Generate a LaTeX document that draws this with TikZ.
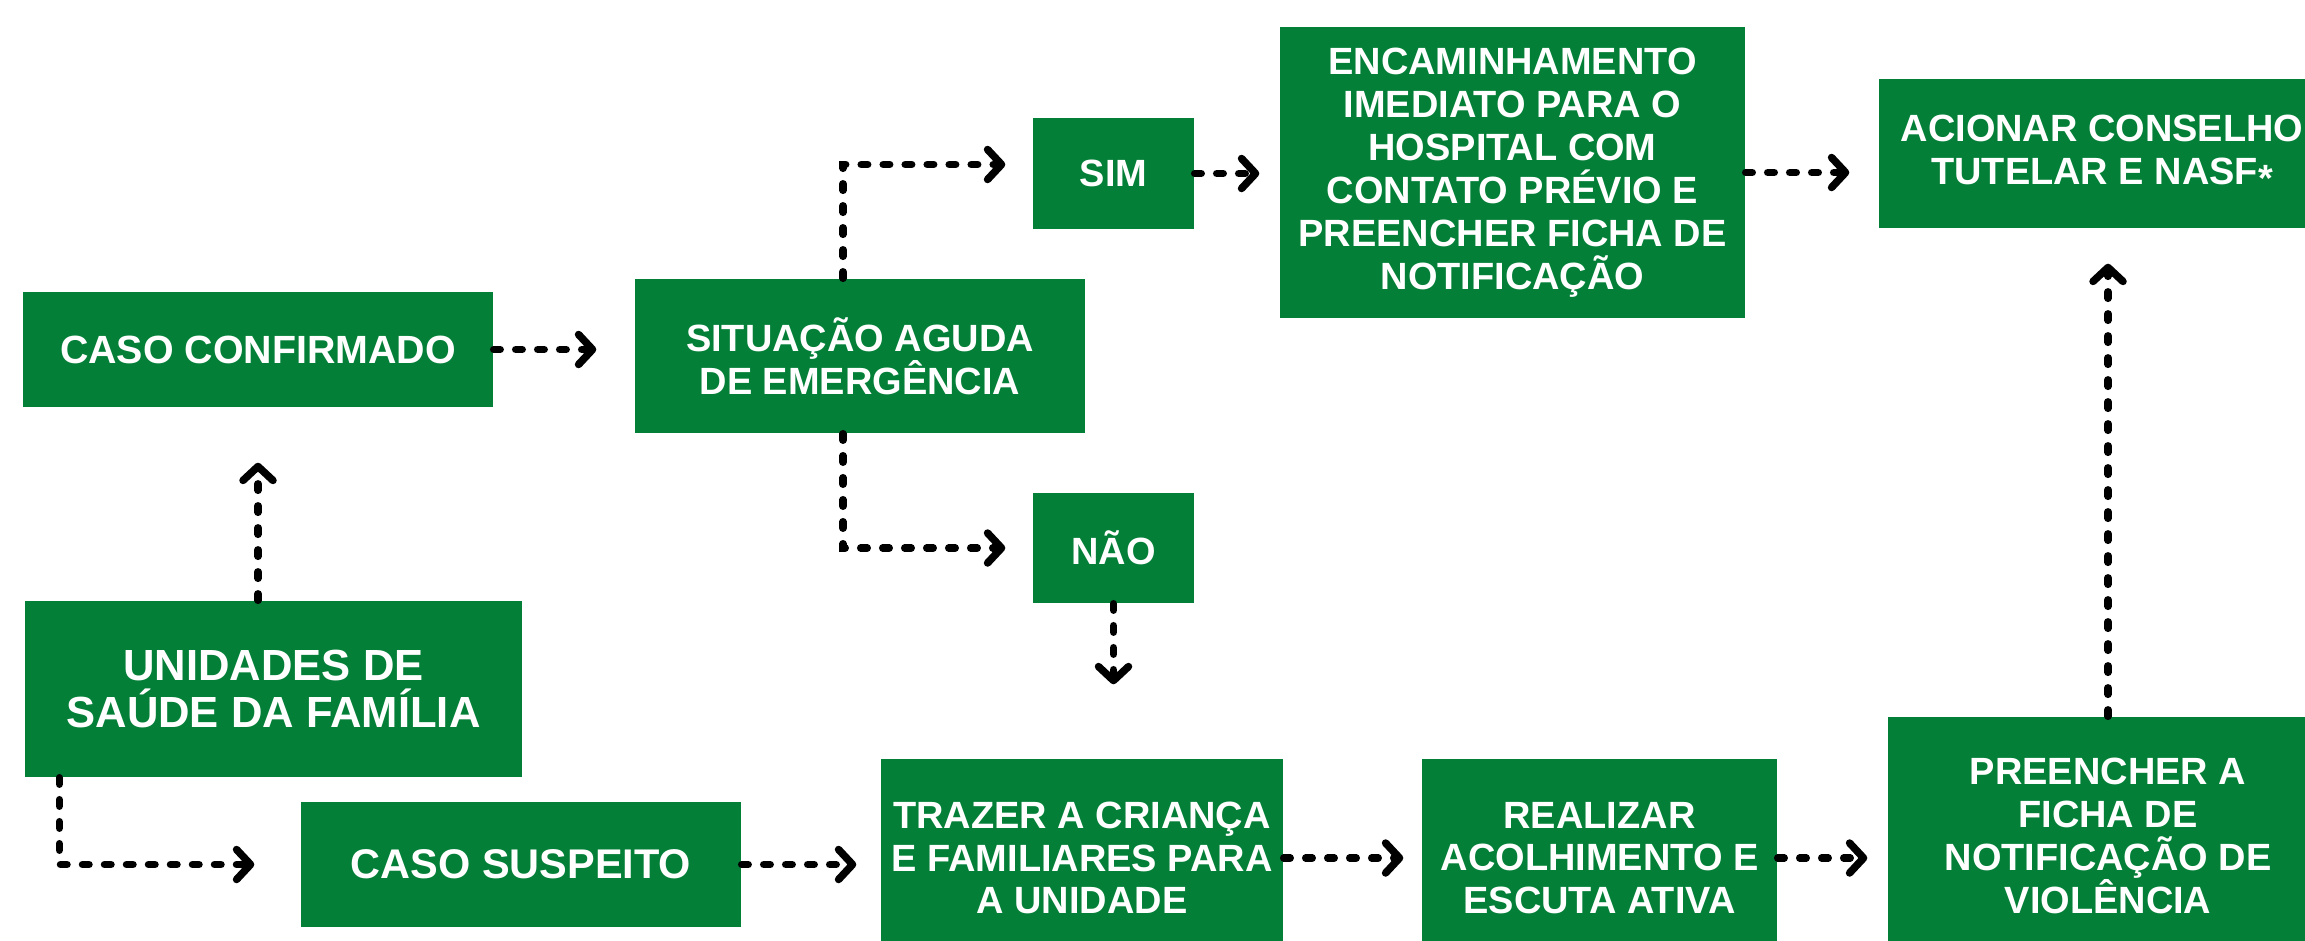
\documentclass[tikz,border=0pt]{standalone}
\usepackage{fontspec}
\setmainfont{Liberation Sans}
\usetikzlibrary{arrows.meta}
\definecolor{verde}{RGB}{4,127,56}

\begin{document}
\begin{tikzpicture}[x=0.1mm, y=-0.1mm,
  caixa/.style={fill=verde, text=white, align=center, inner sep=0pt,
    font=\bfseries\fontsize{10.8pt}{12.2pt}\selectfont},
  seta/.style={line width=0.75mm, line cap=round, dash pattern=on 0.65mm off 1.55mm,
    -{Straight Barb[round, length=1.4mm, width=3mm]}}]
\useasboundingbox (0,0) rectangle (2305,940);
\clip (0,0) rectangle (2305,940);

\node[caixa, minimum width=47mm, minimum height=11.5mm,
  font=\bfseries\fontsize{11.2pt}{12.6pt}\selectfont] (cc) at (258,349.5) {CASO CONFIRMADO};
\node[caixa, minimum width=45mm, minimum height=15.4mm] (sit) at (860,356) {SITUAÇÃO AGUDA\\DE EMERGÊNCIA};
\node[caixa, minimum width=16.1mm, minimum height=11.1mm] (sim) at (1113.5,173.5) {SIM};
\node[caixa, minimum width=16.1mm, minimum height=11mm] (nao) at (1113.5,548) {NÃO};
\node[caixa, minimum width=46.5mm, minimum height=29.1mm] (enc) at (1512.5,172.5)
  {ENCAMINHAMENTO\\IMEDIATO PARA O\\HOSPITAL COM\\CONTATO PRÉVIO E\\PREENCHER FICHA DE\\NOTIFICAÇÃO};
\node[caixa, minimum width=44.6mm, minimum height=14.9mm] (acion) at (2102,153.5)
  {ACIONAR CONSELHO\\TUTELAR E NASF\raisebox{-0.35ex}{*}};
\node[caixa, minimum width=49.7mm, minimum height=17.6mm,
  font=\bfseries\fontsize{12.4pt}{13.1pt}\selectfont] (unid) at (273.5,689) {UNIDADES DE\\SAÚDE DA FAMÍLIA};
\node[caixa, minimum width=44mm, minimum height=12.5mm,
  font=\bfseries\fontsize{11.8pt}{13pt}\selectfont] (cs) at (521,864.5) {CASO SUSPEITO};
\node[caixa, minimum width=40.2mm, minimum height=19.8mm] (trazer) at (1082,858)
  {TRAZER A CRIANÇA\\E FAMILIARES PARA\\A UNIDADE};
\node[caixa, minimum width=35.5mm, minimum height=19.8mm] (real) at (1599.5,858)
  {REALIZAR\\ACOLHIMENTO E\\ESCUTA ATIVA};
\node[caixa, minimum width=44mm, minimum height=23.8mm] (preen) at (2108,836)
  {PREENCHER A\\FICHA DE\\NOTIFICAÇÃO DE\\VIOLÊNCIA};

\draw[seta, shorten >=5.5mm] (cc.south |- unid.north) -- (cc.south);
\draw[seta, shorten >=3.8mm] (cc.east) -- (cc.east -| sit.west);
\draw[seta, shorten >=2.7mm] ([xshift=-1.7mm]sit.north) |- ([yshift=0.9mm]sim.west);
\draw[seta, shorten >=2.7mm] ([xshift=-1.7mm]sit.south) |- (nao.west);
\draw[seta, shorten >=7.4mm] (nao.south) -- (nao.south |- trazer.north);
\draw[seta, shorten >=2mm] (sim.east) -- (sim.east -| enc.west);
\draw[seta, shorten >=2.9mm] (enc.east) -- (enc.east -| acion.west);
\draw[seta, shorten >=4.6mm] ([xshift=3.5mm]unid.south west) |- (cs.west);
\draw[seta, shorten >=2.4mm] (cs.east) -- (cs.east -| trazer.west);
\draw[seta, shorten >=1.8mm] (trazer.east) -- (trazer.east -| real.west);
\draw[seta, shorten >=2mm] (real.east) -- (real.east -| preen.west);
\draw[seta, shorten >=3.5mm] (preen.north) -- (preen.north |- acion.south);
\end{tikzpicture}
\end{document}
